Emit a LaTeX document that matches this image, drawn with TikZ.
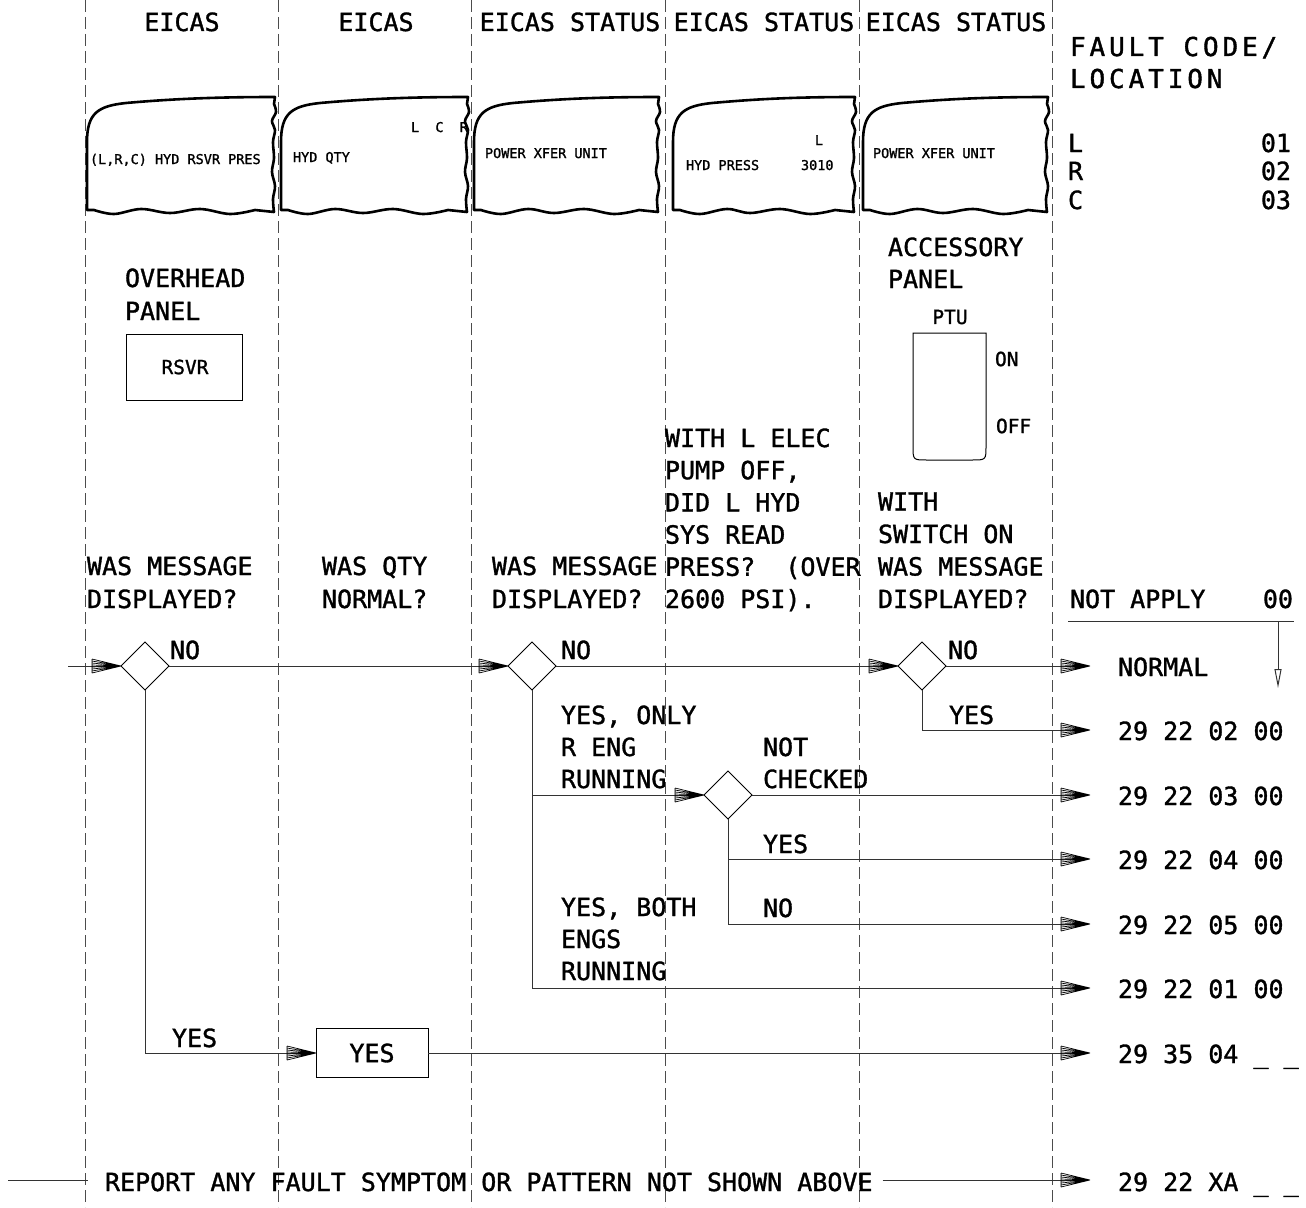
\documentclass[tikz,border=0pt]{standalone}
\usepackage{fontspec}
\setmainfont{DejaVu Sans Mono}[FakeBold=1.3]
\newfontfamily\widefont{DejaVu Sans Mono}[LetterSpace=15,FakeBold=1.5]
\usetikzlibrary{shapes.geometric,arrows.meta}

\pgfdeclarearrow{
  name = Fan,
  parameters = {},
  setup code = {
    \pgfarrowssettipend{0pt}
    \pgfarrowssetlineend{-14pt}
    \pgfarrowssetbackend{-29pt}
    \pgfarrowshullpoint{0pt}{0pt}
    \pgfarrowshullpoint{-29pt}{7pt}
    \pgfarrowshullpoint{-29pt}{-7pt}
  },
  drawing code = {
    \pgfsetdash{}{0pt}
    \pgfsetlinewidth{0.7pt}
    \pgfsetstrokecolor{black}
    \pgfpathmoveto{\pgfqpoint{-29pt}{7pt}}\pgfpathlineto{\pgfqpoint{-29pt}{-7pt}}
    \pgfpathmoveto{\pgfqpoint{-29pt}{7pt}}\pgfpathlineto{\pgfpointorigin}
    \pgfpathmoveto{\pgfqpoint{-29pt}{5pt}}\pgfpathlineto{\pgfpointorigin}
    \pgfpathmoveto{\pgfqpoint{-29pt}{3pt}}\pgfpathlineto{\pgfpointorigin}
    \pgfpathmoveto{\pgfqpoint{-29pt}{1pt}}\pgfpathlineto{\pgfpointorigin}
    \pgfpathmoveto{\pgfqpoint{-29pt}{-1pt}}\pgfpathlineto{\pgfpointorigin}
    \pgfpathmoveto{\pgfqpoint{-29pt}{-3pt}}\pgfpathlineto{\pgfpointorigin}
    \pgfpathmoveto{\pgfqpoint{-29pt}{-5pt}}\pgfpathlineto{\pgfpointorigin}
    \pgfpathmoveto{\pgfqpoint{-29pt}{-7pt}}\pgfpathlineto{\pgfpointorigin}
    \pgfusepathqstroke
  }
}

\newcommand\fL{\fontsize{25}{32}\selectfont}
\newcommand\fM{\fontsize{19.5}{24}\selectfont}
\newcommand\fS{\fontsize{13.5}{16}\selectfont}

\newcommand\screenshape[2]{%
 \draw[scr] (#1+1,210) -- (#1+1,142)
   .. controls (#1+1,113) and (#1+12,106) .. (#1+40,103)
   .. controls (#1+85,99) and (#2-60,97) .. (#2,97)
   -- plot[smooth,tension=0.6] coordinates {(#2-1,104) (#2+1,112) (#2-3,121) (#2,130) (#2-2,142) (#2-1,158) (#2-3,172) (#2,186) (#2-2,199) (#2-1,212)}
   -- plot[smooth,tension=0.6] coordinates {(#2-20,210) (#2-45,214) (#2-75,209) (#2-105,213) (#1+55,209) (#1+28,214) (#1+8,210)}
   -- cycle;}

\newcommand\txtlines[5]{%
 \foreach \t [count=\i from 0] in {#5} {\node[lbl, anchor=base west] (#1\i) at (#2,{#3+\i*#4}) {\t};}}

\begin{document}
\begin{tikzpicture}[x=1pt,y=-1pt,
  every node/.style={inner sep=0pt, outer sep=0pt},
  lbl/.style={font=\fL},
  med/.style={font=\fM},
  sm/.style={font=\fS},
  wide/.style={font=\widefont\fontsize{26}{32}\selectfont},
  colline/.style={draw=black!70, line width=0.9pt, dash pattern=on 12pt off 5pt},
  scr/.style={draw=black, line width=2.6pt, line join=round, line cap=round},
  conn/.style={draw=black!80, line width=1pt},
  arr/.style={conn, -{Fan}},
  dia/.style={draw=black, line width=1pt, diamond, aspect=1, minimum width=48pt, minimum height=48pt},
  boxst/.style={draw=black, line width=1pt}]

\useasboundingbox (0,0) rectangle (1306,1207);
\fill[white] (0,0) rectangle (1306,1207);

% column separators
\foreach \cx in {85,278,471,665,859,1052} {\draw[colline] (\cx,0) -- (\cx,1207);}

% headings
\node[lbl, anchor=base] (h1) at (182,31) {EICAS};
\node[lbl, anchor=base] (h2) at (376,31) {EICAS};
\node[lbl, anchor=base] (h3) at (570,31) {EICAS STATUS};
\node[lbl, anchor=base] (h4) at (764,31) {EICAS STATUS};
\node[lbl, anchor=base] (h5) at (956,31) {EICAS STATUS};
\node[wide, anchor=base west] (fc1) at (1070,56) {FAULT CODE/};
\node[wide, anchor=base west] (fc2) at (1070,88) {LOCATION};

% screens
\screenshape{86}{275}
\screenshape{280}{468}
\screenshape{473}{659}
\screenshape{672}{855}
\screenshape{862}{1048}

\node[sm, anchor=base west] (t1) at (90,164) {(L,R,C) HYD RSVR PRES};
\node[sm, anchor=base west] (t2) at (293,162) {HYD QTY};
\node[sm, anchor=base west] (t2b) at (411,132) {L~~C~~R};
\node[sm, anchor=base west] (t3) at (485,158) {POWER XFER UNIT};
\node[sm, anchor=base west] (t4) at (686,170) {HYD PRESS};
\node[sm, anchor=base] (t4b) at (819,145) {L};
\node[sm, anchor=base west] (t4c) at (801,170) {3010};
\node[sm, anchor=base west] (t5) at (873,158) {POWER XFER UNIT};

% location codes
\node[lbl, anchor=base west] (lL) at (1068,152) {L};
\node[lbl, anchor=base east] (nL) at (1291,152) {01};
\node[lbl, anchor=base west] (lR) at (1068,180) {R};
\node[lbl, anchor=base east] (nR) at (1291,180) {02};
\node[lbl, anchor=base west] (lC) at (1068,209) {C};
\node[lbl, anchor=base east] (nC) at (1291,209) {03};

% overhead panel
\txtlines{ovh}{125}{287}{33}{OVERHEAD,PANEL}
\node[boxst, minimum width=116pt, minimum height=66pt] (rsvrbox) at (184,367) {};
\node[med] (rsvr) at (185,367) {RSVR};

% accessory panel
\txtlines{acc}{888}{256}{32}{ACCESSORY,PANEL}
\node[med] (ptu) at (950,317) {PTU};
\draw[line width=1pt] (913,333) -- (986,333) -- (986,446) .. controls (986,460) .. (972,460) -- (927,460) .. controls (913,460) .. (913,446) -- cycle;
\node[med, anchor=west] (on) at (995,359) {ON};
\node[med, anchor=west] (off) at (996,426) {OFF};

% questions
\txtlines{qa}{87}{575}{33}{WAS MESSAGE,DISPLAYED?}
\txtlines{qb}{322}{575}{33}{WAS QTY,NORMAL?}
\txtlines{qc}{492}{575}{33}{WAS MESSAGE,DISPLAYED?}
\txtlines{qd}{665}{447}{32.2}{WITH L ELEC,{PUMP OFF,},DID L HYD,SYS READ,PRESS?~~(OVER,2600 PSI).}
\txtlines{qe}{878}{510.5}{32.5}{WITH,SWITCH ON,WAS MESSAGE,DISPLAYED?}
\node[lbl, anchor=base west] (na) at (1070,608) {NOT APPLY};
\node[lbl, anchor=base east] (n00) at (1293,608) {00};
\coordinate (nl1) at (1068,621);
\coordinate (nl2) at (1294,621);
\draw[conn] (nl1) -- (nl2);
\coordinate (va1) at (1278,621);
\coordinate (va2) at (1278,688);
\draw[conn, -{Triangle[open,length=19pt,width=7pt]}] (va1) -- (va2);

% diamonds
\coordinate (s0) at (68,666);
\node[dia] (d1) at (145,666) {};
\node[dia] (d2) at (532,666) {};
\node[dia] (d3) at (922,666) {};
\node[dia] (d4) at (728,795) {};
\node[boxst, minimum width=112pt, minimum height=49pt, font=\fL] (yb) at (372,1053) {YES};

% result codes
\node[lbl, anchor=base west] (c1) at (1118,676) {NORMAL};
\node[lbl, anchor=base west] (c2) at (1118,740) {29 22 02 00};
\node[lbl, anchor=base west] (c3) at (1118,805) {29 22 03 00};
\node[lbl, anchor=base west] (c4) at (1118,869) {29 22 04 00};
\node[lbl, anchor=base west] (c5) at (1118,934) {29 22 05 00};
\node[lbl, anchor=base west] (c6) at (1118,998) {29 22 01 00};
\node[lbl, anchor=base west] (c7) at (1118,1063) {29 35 04 \_ \_};
\node[lbl, anchor=base west] (c8) at (1118,1191) {29 22 XA \_ \_};

\coordinate (e1) at (1090,666);
\coordinate (e2) at (1090,730);
\coordinate (e3) at (1090,795);
\coordinate (e4) at (1090,859);
\coordinate (e5) at (1090,924);
\coordinate (e6) at (1090,988);
\coordinate (e7) at (1090,1053);
\coordinate (e8) at (1090,1180);

% connectors
\draw[arr] (s0) -- (d1.west);
\draw[arr] (d1.east) -- (d2.west);
\draw[arr] (d2.east) -- (d3.west);
\draw[arr] (d3.east) -- (e1);
\draw[arr] (d3.south) |- (e2);
\draw[arr] (d2.south) |- (e6);
\draw[arr] (d2.south |- d4.west) -- (d4.west);
\draw[arr] (d4.east) -- (e3);
\draw[arr] (d4.south) |- (e5);
\draw[arr] (d4.south |- e4) -- (e4);
\draw[arr] (d1.south) |- (yb.west);
\draw[arr] (yb.east) -- (e7);

% branch labels
\node[lbl, anchor=base west] (l1) at (170,659) {NO};
\node[lbl, anchor=base west] (l2) at (561,659) {NO};
\node[lbl, anchor=base west] (l3) at (948,659) {NO};
\node[lbl, anchor=base west] (l4) at (949,724) {YES};
\txtlines{la}{561}{724}{32}{{YES, ONLY},R ENG,RUNNING}
\txtlines{lb}{561}{916}{32}{{YES, BOTH},ENGS,RUNNING}
\txtlines{lc}{763}{756}{32}{NOT,CHECKED}
\node[lbl, anchor=base west] (l5) at (763,853) {YES};
\node[lbl, anchor=base west] (l6) at (763,917) {NO};
\node[lbl, anchor=base west] (l7) at (172,1047) {YES};

% bottom row
\coordinate (rs) at (8,1180);
\node[lbl, anchor=base west] (rep) at (105,1191) {REPORT ANY FAULT SYMPTOM OR PATTERN NOT SHOWN ABOVE};
\draw[conn] (rs) -- ([xshift=-17pt]rep.west |- rs);
\draw[arr] ([xshift=10pt]rep.east |- rs) -- (e8);
\end{tikzpicture}
\end{document}
